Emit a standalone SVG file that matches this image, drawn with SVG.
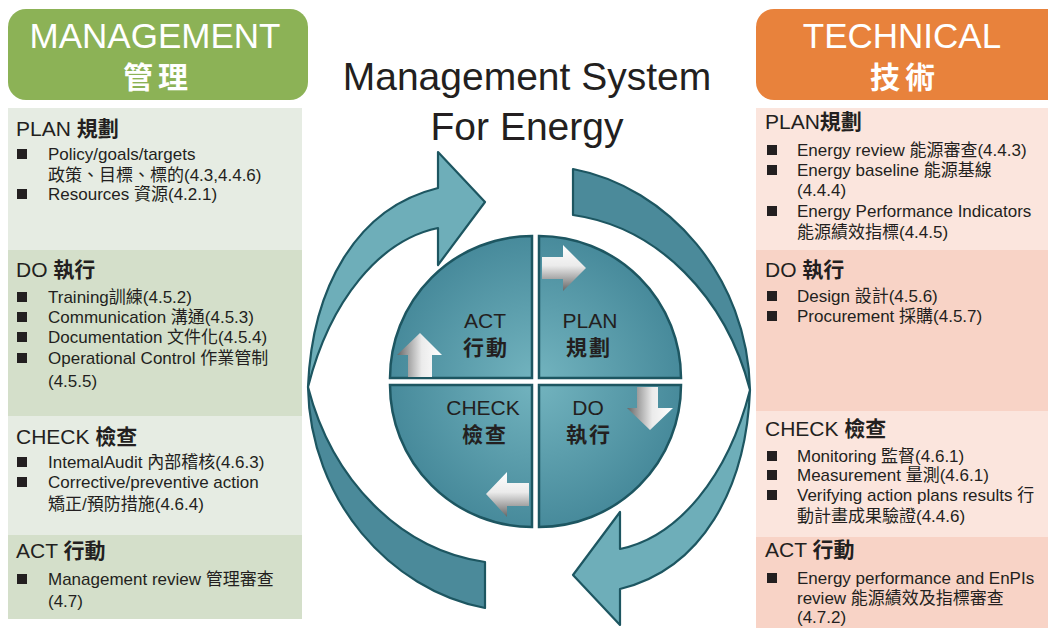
<svg xmlns="http://www.w3.org/2000/svg" width="1048" height="628" viewBox="0 0 1048 628">
<defs>
<style>
text{font-family:"Liberation Sans","Noto Sans CJK TC",sans-serif;fill:#231f20}
.hd{font-size:35px;fill:#fff;text-anchor:middle}
.hz{font-size:30px;fill:#fff;text-anchor:middle;letter-spacing:5px;font-weight:bold}
.h{font-size:21px}
.t{font-size:17px}
.cj{font-weight:bold}
.q{font-size:21px;text-anchor:middle}
.qz{font-size:21px;text-anchor:middle;font-weight:bold;letter-spacing:2px}
.ttl{font-size:39px;text-anchor:middle}
.b{fill:#231f20}
.gl{fill:#e6ece3}.gd{fill:#d4dfca}
.pl{fill:#fbe5dd}.pd{fill:#f8d3c6}
.quad{fill:url(#qg);stroke:#1d5661;stroke-width:2.5}
.rl{fill:#6eaeb9;stroke:#1d5661;stroke-width:2.2;stroke-linejoin:round}
.rd{fill:#4b8a9a;stroke:#1d5661;stroke-width:2.2;stroke-linejoin:round}
</style>
<radialGradient id="qg" gradientUnits="userSpaceOnUse" cx="536" cy="381" r="150">
<stop offset="0" stop-color="#73b4bf"/>
<stop offset="1" stop-color="#46899a"/>
</radialGradient>
<linearGradient id="gv" x1="0" y1="0" x2="0" y2="1">
<stop offset="0" stop-color="#ffffff"/>
<stop offset="0.45" stop-color="#ebebeb"/>
<stop offset="1" stop-color="#666666"/>
</linearGradient>
<linearGradient id="gh" x1="0" y1="0" x2="1" y2="0">
<stop offset="0" stop-color="#666666"/>
<stop offset="0.55" stop-color="#ebebeb"/>
<stop offset="1" stop-color="#ffffff"/>
</linearGradient>
</defs>
<rect width="1048" height="628" fill="#ffffff"/>

<g id="management-header">
<rect x="8" y="9" width="300" height="91" rx="18" fill="#8cb256"/>
<text class="hd" x="155" y="48">MANAGEMENT</text>
<text class="hz" x="158" y="88">管理</text>
</g>

<g id="technical-header">
<rect x="756" y="9" width="310" height="91" rx="18" fill="#e8823c"/>
<text class="hd" x="902" y="48">TECHNICAL</text>
<text class="hz" x="905" y="88">技術</text>
</g>

<g id="title">
<text class="ttl" x="527" y="90">Management System</text>
<text class="ttl" x="527" y="140">For Energy</text>
</g>

<g id="management-plan">
<rect class="gl" x="8" y="108" width="294" height="142"/>
<text class="h" x="16" y="136">PLAN <tspan class="cj">規劃</tspan></text>
<rect class="b" x="17" y="149" width="10" height="10"/>
<text class="t" x="48" y="160">Policy/goals/targets</text>
<text class="t" x="48" y="181">政策、目標、標的(4.3,4.4.6)</text>
<rect class="b" x="17" y="189" width="10" height="10"/>
<text class="t" x="48" y="200">Resources 資源(4.2.1)</text>
</g>

<g id="management-do">
<rect class="gd" x="8" y="250" width="294" height="166"/>
<text class="h" x="16" y="277">DO <tspan class="cj">執行</tspan></text>
<rect class="b" x="17" y="292" width="10" height="10"/>
<text class="t" x="48" y="303">Training訓練(4.5.2)</text>
<rect class="b" x="17" y="312" width="10" height="10"/>
<text class="t" x="48" y="323">Communication 溝通(4.5.3)</text>
<rect class="b" x="17" y="332" width="10" height="10"/>
<text class="t" x="48" y="343">Documentation 文件化(4.5.4)</text>
<rect class="b" x="17" y="353" width="10" height="10"/>
<text class="t" x="48" y="364">Operational Control 作業管制</text>
<text class="t" x="48" y="387">(4.5.5)</text>
</g>

<g id="management-check">
<rect class="gl" x="8" y="416" width="294" height="119"/>
<text class="h" x="16" y="444">CHECK <tspan class="cj">檢查</tspan></text>
<rect class="b" x="17" y="457" width="10" height="10"/>
<text class="t" x="48" y="468">IntemalAudit 內部稽核(4.6.3)</text>
<rect class="b" x="17" y="477" width="10" height="10"/>
<text class="t" x="48" y="488">Corrective/preventive action</text>
<text class="t" x="48" y="510">矯正/預防措施(4.6.4)</text>
</g>

<g id="management-act">
<rect class="gd" x="8" y="535" width="294" height="84"/>
<text class="h" x="16" y="558">ACT <tspan class="cj">行動</tspan></text>
<rect class="b" x="17" y="574" width="10" height="10"/>
<text class="t" x="48" y="585">Management review 管理審查</text>
<text class="t" x="48" y="607">(4.7)</text>
</g>

<g id="technical-plan">
<rect class="pl" x="756" y="108" width="292" height="142"/>
<text class="h" x="765" y="129">PLAN<tspan class="cj">規劃</tspan></text>
<rect class="b" x="767" y="145" width="10" height="10"/>
<text class="t" x="797" y="156">Energy review 能源審查(4.4.3)</text>
<rect class="b" x="767" y="165" width="10" height="10"/>
<text class="t" x="797" y="176">Energy baseline 能源基線</text>
<text class="t" x="797" y="196">(4.4.4)</text>
<rect class="b" x="767" y="206" width="10" height="10"/>
<text class="t" x="797" y="217">Energy Performance Indicators</text>
<text class="t" x="797" y="238">能源績效指標(4.4.5)</text>
</g>

<g id="technical-do">
<rect class="pd" x="756" y="250" width="292" height="161"/>
<text class="h" x="765" y="277">DO <tspan class="cj">執行</tspan></text>
<rect class="b" x="767" y="291" width="10" height="10"/>
<text class="t" x="797" y="302">Design 設計(4.5.6)</text>
<rect class="b" x="767" y="311" width="10" height="10"/>
<text class="t" x="797" y="322">Procurement 採購(4.5.7)</text>
</g>

<g id="technical-check">
<rect class="pl" x="756" y="411" width="292" height="126"/>
<text class="h" x="765" y="436">CHECK <tspan class="cj">檢查</tspan></text>
<rect class="b" x="767" y="451" width="10" height="10"/>
<text class="t" x="797" y="462">Monitoring 監督(4.6.1)</text>
<rect class="b" x="767" y="470" width="10" height="10"/>
<text class="t" x="797" y="481">Measurement 量測(4.6.1)</text>
<rect class="b" x="767" y="490" width="10" height="10"/>
<text class="t" x="797" y="501">Verifying action plans results 行</text>
<text class="t" x="797" y="522">動計畫成果驗證(4.4.6)</text>
</g>

<g id="technical-act">
<rect class="pd" x="756" y="537" width="292" height="91"/>
<text class="h" x="765" y="557">ACT <tspan class="cj">行動</tspan></text>
<rect class="b" x="767" y="573" width="10" height="10"/>
<text class="t" x="797" y="584">Energy performance and EnPIs</text>
<text class="t" x="797" y="604">review 能源績效及指標審查</text>
<text class="t" x="797" y="623">(4.7.2)</text>
</g>

<g id="connectors">
<g id="left-cycle-arrow">
<path class="rd" d="M308,387 C310,500 390,590 485,608 L485,562 C400,550 332,480 308,387 Z"/>
<path class="rl" d="M308,387 C312,288 356,208 438,188 L438,152 L485,202 L438,265 L438,228 C380,240 330,300 308,387 Z"/>
</g>
<g id="right-cycle-arrow" transform="rotate(180 529 388.5)">
<path class="rd" d="M308,387 C310,500 390,590 485,608 L485,562 C400,550 332,480 308,387 Z"/>
<path class="rl" d="M308,387 C312,288 356,208 438,188 L438,152 L485,202 L438,265 L438,228 C380,240 330,300 308,387 Z"/>
</g>
</g>

<g id="act-quadrant">
<path class="quad" d="M532,378 L390,378 A142,142 0 0 1 532,236 Z"/>
<polygon points="408,377 408,355 397,355 420,333 442,355 432,355 432,377" fill="url(#gh)"/>
<text class="q" x="485" y="328">ACT</text>
<text class="qz" x="486" y="355">行動</text>
</g>
<g id="plan-quadrant">
<path class="quad" d="M539,378 L539,236 A142,142 0 0 1 681,378 Z"/>
<polygon points="542,257 563,257 563,245 586,268 563,291 563,279 542,279" fill="url(#gv)"/>
<text class="q" x="590" y="328">PLAN</text>
<text class="qz" x="589" y="355">規劃</text>
</g>
<g id="do-quadrant">
<path class="quad" d="M539,385 L681,385 A142,142 0 0 1 539,527 Z"/>
<polygon points="637,387 658,387 658,408 673,408 650,430 627,408 637,408" fill="url(#gh)"/>
<text class="q" x="588" y="415">DO</text>
<text class="qz" x="589" y="442">執行</text>
</g>
<g id="check-quadrant">
<path class="quad" d="M532,385 L532,527 A142,142 0 0 1 390,385 Z"/>
<polygon points="529,483 507,483 507,472 486,494 507,517 507,506 529,506" fill="url(#gv)"/>
<text class="q" x="483" y="415">CHECK</text>
<text class="qz" x="485" y="442">檢查</text>
</g>
</svg>
